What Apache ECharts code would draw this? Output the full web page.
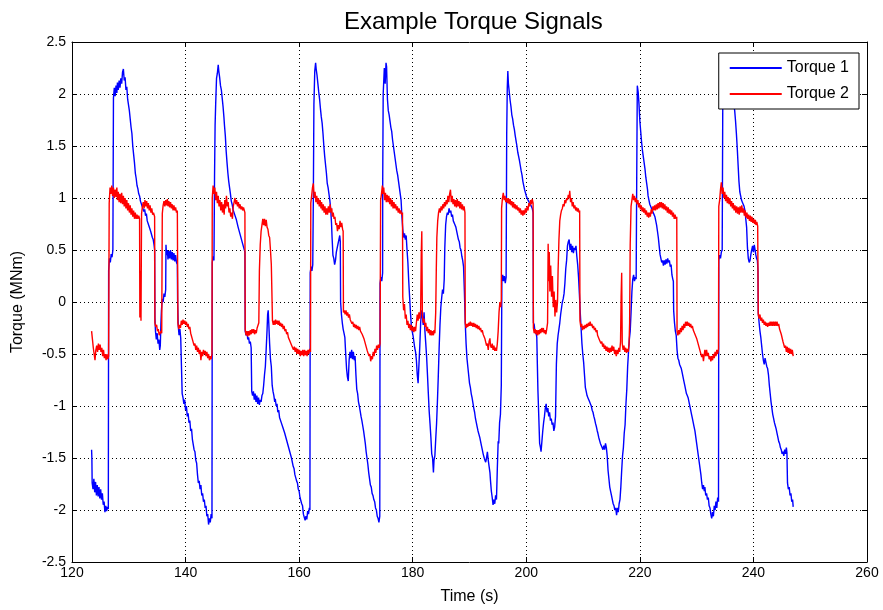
<!DOCTYPE html>
<html>
<head>
<meta charset="utf-8">
<title>Example Torque Signals</title>
<script src="https://cdn.jsdelivr.net/npm/echarts@6/dist/echarts.min.js"></script>
<style>
  html, body { margin: 0; padding: 0; background: #ffffff; }
  #chart { width: 883px; height: 610px; }
</style>
</head>
<body>
<div id="chart"></div>
<script>
// Axis ticks
const xTicks = [120, 140, 160, 180, 200, 220, 240, 260];
const yTicks = [-2.5, -2, -1.5, -1, -0.5, 0, 0.5, 1, 1.5, 2, 2.5];
const seriesNames = ['Torque 1', 'Torque 2'];

// Torque 1: [time (s), torque (MNm)]
const torque1 = [
[123.45,-1.42],[123.5,-1.50],[123.55,-1.74],[123.7,-1.80],[123.85,-1.70],[124.0,-1.83],[124.15,-1.73],[124.3,-1.86],[124.45,-1.76],[124.6,-1.87],
[124.75,-1.78],[124.9,-1.89],[125.05,-1.80],[125.2,-1.90],[125.35,-1.84],[125.5,-1.95],[125.65,-1.92],[125.8,-2.02],[125.95,-1.96],[126.1,-2.01],
[126.25,-1.97],[126.4,-1.99],[126.45,0.30],[126.6,0.42],[126.75,0.38],[126.9,0.46],[127.05,0.43],[127.2,0.50],[127.3,1.96],[127.45,2.06],
[127.6,1.98],[127.75,2.08],[127.9,2.01],[128.0,2.11],[128.15,2.04],[128.3,2.13],[128.45,2.06],[128.6,2.15],[128.75,2.10],[128.9,2.21],
[129.05,2.24],[129.2,2.13],[129.35,2.16],[129.5,2.04],[129.65,2.07],[129.8,1.95],[129.95,1.96],[130.1,1.84],[130.25,1.83],[130.4,1.68],
[130.55,1.62],[130.7,1.50],[130.85,1.42],[131.0,1.34],[131.15,1.24],[131.3,1.19],[131.45,1.12],[131.6,1.09],[131.75,1.04],[131.9,1.02],
[132.05,0.97],[132.2,0.98],[132.35,0.92],[132.5,0.93],[132.65,0.87],[132.8,0.89],[132.95,0.83],[133.1,0.85],[133.25,0.78],[133.4,0.79],
[133.55,0.73],[133.7,0.74],[133.85,0.68],[134.0,0.69],[134.15,0.62],[134.3,0.60],[134.45,0.55],[134.55,0.50],[134.6,-0.15],[134.7,-0.28],
[134.85,-0.36],[135.0,-0.30],[135.15,-0.40],[135.3,-0.36],[135.45,-0.46],[135.55,-0.42],[135.65,-0.22],[135.75,-0.08],[135.9,0.03],[136.05,0.00],
[136.2,0.08],[136.35,0.05],[136.5,0.12],[136.55,0.55],[136.65,0.45],[136.8,0.50],[136.9,0.41],[137.05,0.49],[137.2,0.42],[137.35,0.50],
[137.5,0.41],[137.65,0.48],[137.8,0.40],[137.95,0.47],[138.1,0.39],[138.25,0.45],[138.4,0.38],[138.55,0.36],[138.6,0.00],[138.7,-0.22],
[138.85,-0.32],[139.0,-0.26],[139.15,-0.35],[139.3,-0.34],[139.4,-0.88],[139.55,-0.92],[139.7,-0.98],[139.85,-0.94],[140.0,-1.04],[140.15,-1.00],
[140.3,-1.10],[140.45,-1.07],[140.6,-1.16],[140.75,-1.14],[140.9,-1.24],[141.05,-1.22],[141.2,-1.32],[141.35,-1.33],[141.5,-1.42],[141.65,-1.44],
[141.8,-1.52],[141.95,-1.55],[142.1,-1.66],[142.25,-1.74],[142.4,-1.72],[142.55,-1.80],[142.7,-1.76],[142.85,-1.86],[143.0,-1.84],[143.15,-1.92],
[143.3,-1.90],[143.45,-1.98],[143.6,-1.96],[143.75,-2.06],[143.9,-2.04],[144.05,-2.14],[144.2,-2.08],[144.35,-2.12],[144.5,-2.04],[144.65,-2.08],
[144.7,0.38],[144.85,0.44],[145.0,0.40],[145.1,1.20],[145.2,1.70],[145.3,1.90],[145.45,2.15],[145.6,2.20],[145.75,2.28],[145.85,2.22],
[146.0,2.16],[146.15,2.08],[146.3,2.04],[146.45,1.96],[146.6,1.88],[146.75,1.78],[146.85,1.70],[147.0,1.60],[147.15,1.45],[147.3,1.34],
[147.45,1.24],[147.6,1.16],[147.75,1.10],[147.9,1.04],[148.05,0.97],[148.2,0.94],[148.35,0.89],[148.5,0.90],[148.65,0.84],[148.8,0.85],
[148.95,0.79],[149.1,0.78],[149.25,0.72],[149.4,0.72],[149.55,0.66],[149.7,0.66],[149.85,0.60],[150.0,0.60],[150.15,0.54],[150.3,0.54],
[150.45,0.48],[150.5,-0.28],[150.65,-0.32],[150.8,-0.28],[150.95,-0.36],[151.1,-0.34],[151.25,-0.40],[151.4,-0.38],[151.55,-0.44],[151.65,-0.86],
[151.8,-0.90],[151.95,-0.86],[152.1,-0.94],[152.25,-0.88],[152.4,-0.96],[152.55,-0.90],[152.7,-0.98],[152.85,-0.92],[153.0,-0.99],[153.15,-0.94],
[153.3,-0.96],[153.45,-0.90],[153.6,-0.88],[153.75,-0.80],[153.9,-0.70],[154.05,-0.62],[154.2,-0.45],[154.35,-0.27],[154.45,-0.12],[154.55,-0.08],
[154.65,-0.20],[154.8,-0.40],[154.95,-0.55],[155.1,-0.62],[155.25,-0.80],[155.4,-0.86],[155.55,-0.90],[155.7,-0.96],[155.8,-0.93],[155.95,-1.00],
[156.1,-0.98],[156.25,-1.06],[156.4,-1.04],[156.55,-1.11],[156.7,-1.10],[156.85,-1.16],[157.0,-1.15],[157.15,-1.21],[157.3,-1.20],[157.45,-1.26],
[157.6,-1.27],[157.75,-1.32],[157.9,-1.32],[158.05,-1.38],[158.2,-1.38],[158.35,-1.44],[158.5,-1.44],[158.65,-1.50],[158.8,-1.50],[158.95,-1.58],
[159.1,-1.60],[159.25,-1.66],[159.4,-1.67],[159.55,-1.72],[159.7,-1.74],[159.85,-1.80],[160.0,-1.82],[160.15,-1.88],[160.3,-1.88],[160.45,-1.94],
[160.6,-1.96],[160.75,-2.04],[160.9,-2.04],[161.05,-2.10],[161.2,-2.06],[161.35,-2.09],[161.5,-2.01],[161.65,-2.04],[161.8,-1.98],[161.9,-2.00],
[161.95,0.28],[162.1,0.34],[162.25,0.30],[162.4,0.36],[162.5,1.00],[162.6,1.90],[162.75,2.22],[162.9,2.30],[163.0,2.24],[163.15,2.18],
[163.3,2.10],[163.45,2.02],[163.6,1.95],[163.75,1.86],[163.9,1.78],[164.05,1.72],[164.2,1.62],[164.35,1.50],[164.5,1.40],[164.65,1.32],
[164.8,1.24],[164.95,1.14],[165.1,1.10],[165.25,1.04],[165.4,0.98],[165.55,0.90],[165.7,0.76],[165.8,0.62],[165.95,0.45],[166.1,0.42],
[166.25,0.36],[166.4,0.40],[166.55,0.48],[166.7,0.52],[166.85,0.56],[167.0,0.60],[167.15,0.64],[167.25,0.58],[167.3,0.00],[167.45,-0.12],
[167.6,-0.20],[167.75,-0.26],[167.9,-0.30],[168.05,-0.34],[168.2,-0.50],[168.35,-0.64],[168.5,-0.72],[168.65,-0.76],[168.8,-0.56],[168.95,-0.48],
[169.1,-0.54],[169.25,-0.46],[169.4,-0.55],[169.55,-0.48],[169.7,-0.56],[169.85,-0.52],[170.0,-0.70],[170.15,-0.84],[170.3,-0.88],[170.45,-0.96],
[170.6,-1.00],[170.75,-1.05],[170.9,-1.10],[171.05,-1.14],[171.2,-1.19],[171.35,-1.24],[171.5,-1.30],[171.65,-1.36],[171.8,-1.44],[171.95,-1.50],
[172.1,-1.56],[172.25,-1.64],[172.4,-1.70],[172.55,-1.76],[172.7,-1.78],[172.85,-1.84],[173.0,-1.86],[173.15,-1.90],[173.3,-1.92],[173.45,-1.98],
[173.6,-2.00],[173.75,-2.06],[173.9,-2.08],[174.05,-2.12],[174.2,-2.06],[174.25,0.18],[174.4,0.24],[174.55,0.20],[174.7,0.28],[174.72,1.20],
[174.8,2.00],[175.0,2.25],[175.15,2.10],[175.3,2.30],[175.4,2.26],[175.55,1.95],[175.7,1.84],[175.85,1.80],[176.0,1.74],[176.15,1.68],
[176.3,1.64],[176.45,1.56],[176.6,1.50],[176.75,1.44],[176.9,1.38],[177.05,1.32],[177.2,1.26],[177.35,1.22],[177.5,1.16],[177.65,1.10],
[177.8,1.04],[177.95,0.98],[178.1,0.82],[178.25,0.70],[178.4,0.62],[178.55,0.66],[178.7,0.60],[178.85,0.64],[179.0,0.50],[179.15,0.38],
[179.3,0.20],[179.45,0.05],[179.6,-0.10],[179.75,-0.22],[179.9,-0.28],[180.05,-0.32],[180.2,-0.38],[180.35,-0.44],[180.5,-0.48],[180.65,-0.56],
[180.8,-0.70],[180.95,-0.78],[181.1,-0.60],[181.25,-0.42],[181.4,-0.20],[181.55,-0.08],[181.7,-0.14],[181.85,-0.22],[182.0,-0.10],[182.15,-0.28],
[182.3,-0.40],[182.45,-0.53],[182.6,-0.70],[182.75,-0.88],[182.9,-1.05],[183.05,-1.17],[183.2,-1.30],[183.35,-1.46],[183.5,-1.50],[183.65,-1.64],
[183.75,-1.52],[183.9,-1.48],[184.05,-1.32],[184.2,-1.17],[184.35,-0.96],[184.5,-0.72],[184.65,-0.45],[184.8,-0.22],[184.95,-0.05],[185.1,0.04],
[185.25,0.12],[185.4,0.08],[185.55,0.22],[185.65,0.52],[185.8,0.74],[185.95,0.82],[186.1,0.86],[186.25,0.84],[186.4,0.90],[186.55,0.86],
[186.7,0.88],[186.85,0.82],[187.0,0.84],[187.15,0.78],[187.3,0.78],[187.45,0.74],[187.6,0.72],[187.75,0.68],[187.9,0.68],[188.05,0.60],
[188.2,0.58],[188.35,0.52],[188.5,0.50],[188.65,0.44],[188.8,0.40],[188.95,0.34],[189.1,0.10],[189.25,-0.20],[189.4,-0.40],[189.55,-0.54],
[189.7,-0.62],[189.85,-0.70],[190.0,-0.78],[190.15,-0.82],[190.3,-0.88],[190.45,-0.92],[190.6,-0.97],[190.75,-1.02],[190.9,-1.06],[191.05,-1.12],
[191.2,-1.16],[191.35,-1.20],[191.5,-1.24],[191.65,-1.27],[191.8,-1.30],[191.95,-1.34],[192.1,-1.38],[192.25,-1.42],[192.4,-1.46],[192.55,-1.49],
[192.7,-1.52],[192.85,-1.54],[193.0,-1.50],[193.15,-1.44],[193.3,-1.52],[193.45,-1.58],[193.6,-1.64],[193.7,-1.72],[193.85,-1.82],[194.0,-1.88],
[194.15,-1.95],[194.3,-1.90],[194.45,-1.94],[194.6,-1.86],[194.75,-1.90],[194.9,-1.60],[195.05,-1.34],[195.15,-1.36],[195.3,-1.16],[195.45,-1.08],
[195.6,-0.80],[195.7,0.20],[195.85,0.26],[196.0,0.20],[196.15,0.25],[196.3,0.18],[196.45,0.24],[196.55,1.60],[196.65,2.05],[196.75,2.22],
[196.85,2.10],[197.0,2.02],[197.15,1.94],[197.3,1.88],[197.45,1.80],[197.6,1.76],[197.75,1.70],[197.9,1.66],[198.05,1.60],[198.2,1.55],
[198.35,1.50],[198.5,1.44],[198.65,1.40],[198.8,1.36],[198.95,1.31],[199.1,1.26],[199.25,1.22],[199.4,1.16],[199.55,1.12],[199.7,1.08],
[199.85,1.05],[200.0,1.02],[200.15,1.00],[200.3,0.98],[200.45,0.98],[200.6,0.95],[200.75,0.94],[200.9,0.92],[201.05,0.90],[201.2,0.86],
[201.25,-0.20],[201.4,-0.22],[201.55,-0.30],[201.7,-0.28],[201.85,-0.34],[201.95,-0.60],[202.05,-0.85],[202.2,-1.10],[202.35,-1.36],[202.5,-1.40],
[202.6,-1.44],[202.75,-1.34],[202.9,-1.24],[203.05,-1.16],[203.2,-1.10],[203.35,-1.02],[203.5,-0.98],[203.65,-1.06],[203.8,-1.02],[203.95,-1.10],
[204.1,-1.06],[204.25,-1.14],[204.4,-1.12],[204.55,-1.18],[204.7,-1.16],[204.85,-1.24],[205.0,-1.20],[205.15,-1.10],[205.3,-0.60],[205.45,-0.40],
[205.6,-0.32],[205.75,-0.26],[205.9,-0.20],[206.05,-0.12],[206.2,-0.06],[206.35,0.00],[206.5,0.03],[206.65,0.08],[206.8,0.18],[206.95,0.32],
[207.1,0.40],[207.25,0.54],[207.4,0.58],[207.55,0.60],[207.7,0.50],[207.85,0.56],[208.0,0.48],[208.15,0.54],[208.3,0.47],[208.45,0.52],
[208.6,0.50],[208.75,0.54],[208.9,0.44],[209.05,0.36],[209.2,0.24],[209.35,0.08],[209.5,-0.10],[209.65,-0.25],[209.8,-0.40],[209.95,-0.50],
[210.1,-0.58],[210.25,-0.70],[210.4,-0.82],[210.55,-0.86],[210.7,-0.90],[210.85,-0.92],[211.0,-0.94],[211.15,-0.96],[211.3,-0.98],[211.45,-1.00],
[211.6,-1.04],[211.75,-1.06],[211.9,-1.10],[212.05,-1.13],[212.2,-1.17],[212.35,-1.20],[212.5,-1.24],[212.6,-1.26],[212.75,-1.30],[212.9,-1.33],
[213.05,-1.36],[213.2,-1.38],[213.35,-1.40],[213.5,-1.42],[213.65,-1.38],[213.8,-1.42],[213.95,-1.36],[214.1,-1.40],[214.25,-1.48],[214.4,-1.62],
[214.55,-1.70],[214.7,-1.78],[214.85,-1.82],[215.0,-1.86],[215.15,-1.90],[215.3,-1.94],[215.45,-1.96],[215.6,-2.00],[215.75,-1.98],[215.9,-2.05],
[216.05,-1.98],[216.2,-2.02],[216.35,-1.94],[216.5,-1.90],[216.65,-1.78],[216.8,-1.62],[216.95,-1.48],[217.1,-1.40],[217.25,-1.26],[217.4,-1.18],
[217.55,-0.98],[217.7,-0.84],[217.85,-0.62],[218.0,-0.48],[218.15,-0.36],[218.3,-0.28],[218.45,-0.10],[218.6,0.10],[218.75,0.22],[218.9,0.26],
[219.05,0.20],[219.2,0.24],[219.35,0.22],[219.45,1.20],[219.55,2.08],[219.7,2.02],[219.85,1.90],[220.0,1.74],[220.15,1.64],[220.3,1.54],
[220.45,1.46],[220.6,1.40],[220.75,1.34],[220.9,1.28],[221.05,1.20],[221.2,1.14],[221.35,1.08],[221.45,1.02],[221.6,0.98],[221.75,0.94],
[221.9,0.92],[222.05,0.90],[222.2,0.88],[222.35,0.86],[222.5,0.84],[222.65,0.82],[222.8,0.78],[222.95,0.74],[223.1,0.68],[223.25,0.62],
[223.4,0.54],[223.55,0.46],[223.7,0.42],[223.85,0.38],[224.0,0.40],[224.15,0.35],[224.3,0.40],[224.45,0.36],[224.6,0.41],[224.75,0.37],
[224.9,0.42],[225.05,0.38],[225.2,0.40],[225.35,0.34],[225.5,0.36],[225.65,0.26],[225.8,0.22],[225.9,0.20],[225.95,-0.08],[226.1,-0.20],
[226.25,-0.28],[226.4,-0.32],[226.55,-0.46],[226.7,-0.54],[226.85,-0.56],[227.0,-0.60],[227.15,-0.62],[227.3,-0.64],[227.45,-0.68],[227.6,-0.72],
[227.75,-0.76],[227.9,-0.80],[228.05,-0.84],[228.2,-0.88],[228.35,-0.90],[228.5,-0.92],[228.65,-0.96],[228.8,-1.00],[228.95,-1.04],[229.1,-1.08],
[229.25,-1.12],[229.4,-1.16],[229.55,-1.20],[229.7,-1.24],[229.85,-1.30],[230.0,-1.36],[230.15,-1.42],[230.3,-1.48],[230.45,-1.54],[230.6,-1.60],
[230.75,-1.66],[230.9,-1.74],[231.05,-1.80],[231.2,-1.76],[231.35,-1.82],[231.45,-1.78],[231.6,-1.86],[231.75,-1.84],[231.9,-1.90],[232.05,-1.88],
[232.2,-1.96],[232.35,-1.98],[232.5,-2.04],[232.65,-2.08],[232.8,-2.02],[232.95,-2.06],[233.1,-1.96],[233.25,-2.00],[233.4,-1.92],[233.55,-1.98],
[233.7,-1.88],[233.85,-1.92],[233.9,0.40],[234.05,0.45],[234.2,0.42],[234.35,0.48],[234.5,0.50],[234.6,1.90],[234.75,2.02],[234.9,2.06],
[235.05,2.04],[235.2,2.08],[235.35,2.05],[235.5,2.06],[235.65,2.04],[235.8,2.02],[235.95,2.00],[236.1,1.98],[236.25,1.96],[236.4,1.92],
[236.55,1.90],[236.7,1.84],[236.85,1.74],[237.0,1.62],[237.15,1.48],[237.3,1.32],[237.45,1.16],[237.6,1.06],[237.75,1.02],[237.9,0.98],
[238.05,0.96],[238.2,0.94],[238.35,0.92],[238.5,0.88],[238.65,0.80],[238.8,0.72],[238.95,0.52],[239.1,0.42],[239.25,0.38],[239.4,0.40],
[239.55,0.46],[239.7,0.50],[239.85,0.54],[240.0,0.48],[240.15,0.55],[240.3,0.50],[240.4,0.46],[240.55,0.42],[240.7,0.40],[240.8,0.30],
[240.85,-0.10],[241.0,-0.20],[241.15,-0.28],[241.3,-0.34],[241.45,-0.42],[241.6,-0.50],[241.75,-0.56],[241.9,-0.60],[242.05,-0.54],[242.2,-0.58],
[242.35,-0.62],[242.5,-0.64],[242.65,-0.70],[242.8,-0.80],[242.95,-0.88],[243.1,-0.96],[243.25,-1.02],[243.4,-1.08],[243.55,-1.12],[243.7,-1.16],
[243.85,-1.19],[244.0,-1.22],[244.15,-1.26],[244.3,-1.30],[244.45,-1.34],[244.6,-1.36],[244.75,-1.40],[244.9,-1.42],[245.05,-1.46],[245.2,-1.44],
[245.35,-1.48],[245.5,-1.42],[245.65,-1.46],[245.8,-1.40],[245.9,-1.45],[246.0,-1.74],[246.15,-1.80],[246.3,-1.78],[246.45,-1.86],[246.6,-1.84],
[246.75,-1.92],[246.9,-1.90],[247.0,-1.97]
];

// Torque 2: [time (s), torque (MNm)]
const torque2 = [
[123.45,-0.28],[123.6,-0.36],[123.75,-0.44],[123.9,-0.50],[124.05,-0.56],[124.2,-0.46],[124.35,-0.42],[124.5,-0.48],[124.65,-0.40],[124.8,-0.46],
[124.95,-0.41],[125.1,-0.48],[125.25,-0.44],[125.4,-0.52],[125.55,-0.46],[125.7,-0.54],[125.85,-0.50],[126.0,-0.56],[126.15,-0.50],[126.3,-0.55],
[126.45,-0.52],[126.55,0.95],[126.7,1.10],[126.85,1.04],[127.0,1.12],[127.15,1.02],[127.3,1.10],[127.45,1.00],[127.6,1.08],[127.75,1.01],
[127.9,1.10],[128.0,0.98],[128.15,1.06],[128.3,0.96],[128.45,1.04],[128.6,0.95],[128.75,1.05],[128.9,0.94],[129.05,1.02],[129.2,0.92],
[129.35,1.00],[129.5,0.90],[129.65,0.98],[129.8,0.88],[129.95,0.95],[130.1,0.86],[130.25,0.93],[130.4,0.84],[130.55,0.90],[130.7,0.82],
[130.85,0.88],[131.0,0.80],[131.15,0.86],[131.3,0.80],[131.45,0.84],[131.6,0.80],[131.75,0.83],[131.9,0.80],[131.95,-0.15],[132.05,0.30],
[132.15,-0.18],[132.25,0.85],[132.4,0.92],[132.55,0.96],[132.7,0.90],[132.85,0.98],[133.0,0.92],[133.15,0.97],[133.3,0.90],[133.45,0.95],
[133.6,0.88],[133.75,0.93],[133.9,0.86],[134.05,0.90],[134.2,0.84],[134.35,0.86],[134.55,0.82],[134.6,-0.20],[134.75,-0.24],[134.9,-0.22],
[135.05,-0.28],[135.2,-0.26],[135.35,-0.32],[135.5,-0.30],[135.65,-0.28],[135.8,-0.30],[135.9,0.85],[136.05,0.93],[136.2,0.97],[136.35,0.92],
[136.5,0.98],[136.65,0.93],[136.8,0.99],[136.9,0.92],[137.05,0.97],[137.2,0.91],[137.35,0.96],[137.5,0.90],[137.65,0.94],[137.8,0.88],
[137.95,0.93],[138.1,0.88],[138.25,0.91],[138.4,0.86],[138.55,0.88],[138.65,-0.20],[138.8,-0.26],[138.95,-0.22],[139.1,-0.25],[139.25,-0.18],
[139.4,-0.22],[139.55,-0.17],[139.7,-0.21],[139.85,-0.18],[140.0,-0.22],[140.15,-0.19],[140.3,-0.24],[140.45,-0.21],[140.6,-0.26],[140.75,-0.24],
[140.9,-0.30],[141.05,-0.30],[141.2,-0.36],[141.35,-0.36],[141.5,-0.42],[141.65,-0.40],[141.8,-0.46],[141.95,-0.42],[142.1,-0.48],[142.25,-0.44],
[142.4,-0.50],[142.55,-0.46],[142.7,-0.56],[142.85,-0.48],[143.0,-0.52],[143.15,-0.46],[143.3,-0.50],[143.45,-0.47],[143.6,-0.52],[143.75,-0.48],
[143.9,-0.54],[144.05,-0.50],[144.2,-0.56],[144.35,-0.52],[144.5,-0.55],[144.65,-0.50],[144.7,1.00],[144.85,1.12],[145.0,1.04],[145.15,1.10],
[145.3,0.98],[145.45,1.06],[145.6,0.95],[145.75,1.02],[145.9,0.92],[146.05,0.98],[146.2,0.88],[146.35,0.96],[146.5,0.86],[146.65,0.94],
[146.8,0.84],[146.9,0.98],[147.05,0.90],[147.2,1.02],[147.35,0.92],[147.5,0.96],[147.65,0.86],[147.8,0.90],[147.95,0.82],[148.1,0.86],
[148.25,0.80],[148.4,0.92],[148.55,0.96],[148.7,1.00],[148.85,0.94],[149.0,0.98],[149.15,0.92],[149.3,0.96],[149.45,0.90],[149.6,0.94],
[149.75,0.89],[149.9,0.92],[150.05,0.88],[150.2,0.91],[150.35,0.88],[150.45,0.86],[150.5,-0.26],[150.65,-0.32],[150.8,-0.28],[150.95,-0.33],
[151.1,-0.28],[151.25,-0.32],[151.4,-0.27],[151.55,-0.31],[151.7,-0.26],[151.85,-0.30],[152.0,-0.26],[152.15,-0.31],[152.3,-0.27],[152.45,-0.30],
[152.6,-0.25],[152.75,-0.24],[152.9,-0.20],[153.0,0.30],[153.15,0.55],[153.3,0.68],[153.45,0.74],[153.6,0.80],[153.75,0.74],[153.9,0.80],
[154.05,0.73],[154.2,0.79],[154.35,0.72],[154.5,0.70],[154.65,0.64],[154.8,0.62],[154.95,0.50],[155.1,0.36],[155.2,0.10],[155.3,-0.18],
[155.45,-0.22],[155.6,-0.18],[155.75,-0.22],[155.85,-0.17],[156.0,-0.21],[156.15,-0.18],[156.3,-0.22],[156.45,-0.18],[156.6,-0.23],[156.75,-0.20],
[156.9,-0.24],[157.05,-0.21],[157.2,-0.26],[157.35,-0.23],[157.5,-0.28],[157.65,-0.26],[157.8,-0.31],[157.95,-0.29],[158.1,-0.34],[158.25,-0.33],
[158.4,-0.38],[158.55,-0.37],[158.7,-0.42],[158.85,-0.41],[159.0,-0.46],[159.15,-0.43],[159.3,-0.48],[159.45,-0.44],[159.6,-0.50],[159.75,-0.45],
[159.9,-0.50],[160.05,-0.46],[160.2,-0.52],[160.35,-0.47],[160.5,-0.51],[160.65,-0.46],[160.8,-0.52],[160.95,-0.46],[161.1,-0.51],[161.25,-0.47],
[161.4,-0.52],[161.55,-0.46],[161.7,-0.50],[161.85,-0.45],[162.0,-0.48],[162.05,0.95],[162.2,1.02],[162.35,1.10],[162.5,1.14],[162.65,1.00],
[162.8,1.06],[162.95,0.96],[163.1,1.02],[163.25,0.94],[163.4,1.00],[163.55,0.92],[163.7,0.98],[163.85,0.90],[163.95,0.96],[164.1,0.88],
[164.25,0.94],[164.4,0.86],[164.55,0.92],[164.7,0.84],[164.85,0.90],[165.0,0.84],[165.15,0.92],[165.3,0.86],[165.45,0.94],[165.6,0.86],
[165.75,0.90],[165.85,0.82],[166.0,0.86],[166.15,0.80],[166.3,0.82],[166.45,0.74],[166.6,0.76],[166.75,0.68],[166.9,0.74],[167.05,0.70],
[167.2,0.78],[167.35,0.72],[167.5,0.76],[167.65,0.70],[167.75,0.68],[167.8,-0.10],[167.95,-0.08],[168.1,-0.12],[168.25,-0.08],[168.4,-0.13],
[168.55,-0.10],[168.7,-0.15],[168.85,-0.12],[169.0,-0.17],[169.15,-0.16],[169.3,-0.21],[169.45,-0.19],[169.6,-0.24],[169.75,-0.21],[169.9,-0.25],
[170.05,-0.22],[170.2,-0.26],[170.35,-0.23],[170.5,-0.27],[170.65,-0.24],[170.8,-0.28],[170.95,-0.27],[171.1,-0.31],[171.25,-0.30],[171.4,-0.35],
[171.55,-0.36],[171.7,-0.41],[171.85,-0.42],[172.0,-0.47],[172.15,-0.46],[172.3,-0.52],[172.45,-0.50],[172.6,-0.57],[172.75,-0.52],[172.9,-0.55],
[173.05,-0.48],[173.2,-0.52],[173.35,-0.45],[173.5,-0.49],[173.65,-0.42],[173.8,-0.46],[173.95,-0.41],[174.1,-0.44],[174.25,-0.40],[174.35,0.98],
[174.5,1.04],[174.65,1.12],[174.75,1.04],[174.9,1.10],[175.05,0.98],[175.2,1.05],[175.35,0.96],[175.5,1.03],[175.65,0.96],[175.8,1.02],
[175.95,0.94],[176.1,1.00],[176.25,0.92],[176.4,0.98],[176.55,0.90],[176.7,0.96],[176.85,0.90],[177.0,0.94],[177.15,0.88],[177.3,0.92],
[177.45,0.86],[177.6,0.90],[177.75,0.85],[177.9,0.88],[178.05,0.84],[178.2,0.86],[178.25,0.05],[178.4,-0.08],[178.55,-0.02],[178.7,-0.16],
[178.85,-0.12],[179.0,-0.22],[179.15,-0.18],[179.3,-0.25],[179.45,-0.21],[179.6,-0.27],[179.75,-0.22],[179.9,-0.28],[180.05,-0.24],[180.2,-0.29],
[180.35,-0.24],[180.5,-0.28],[180.65,-0.20],[180.8,-0.12],[180.95,-0.18],[181.1,-0.10],[181.25,-0.16],[181.4,-0.08],[181.5,0.45],[181.6,0.68],
[181.7,-0.12],[181.85,-0.20],[182.0,-0.16],[182.15,-0.24],[182.3,-0.20],[182.45,-0.28],[182.6,-0.24],[182.75,-0.30],[182.9,-0.26],[183.05,-0.32],
[183.2,-0.27],[183.35,-0.32],[183.5,-0.28],[183.65,-0.32],[183.75,-0.27],[183.9,-0.30],[184.05,-0.10],[184.15,0.30],[184.25,0.62],[184.4,0.78],
[184.55,0.86],[184.7,0.90],[184.85,0.86],[185.0,0.92],[185.15,0.88],[185.3,0.94],[185.45,0.90],[185.6,0.96],[185.75,0.92],[185.9,0.98],
[186.05,0.94],[186.2,1.02],[186.35,0.96],[186.5,1.04],[186.65,1.08],[186.8,0.96],[186.95,1.02],[187.1,0.94],[187.25,0.99],[187.4,0.92],
[187.55,0.98],[187.7,0.91],[187.85,0.99],[188.0,0.92],[188.15,0.97],[188.3,0.90],[188.45,0.96],[188.6,0.89],[188.75,0.94],[188.9,0.88],
[189.05,0.92],[189.2,0.86],[189.25,-0.20],[189.4,-0.25],[189.55,-0.21],[189.7,-0.24],[189.85,-0.20],[190.0,-0.23],[190.15,-0.19],[190.3,-0.23],
[190.45,-0.20],[190.6,-0.24],[190.75,-0.20],[190.9,-0.24],[191.05,-0.21],[191.2,-0.25],[191.35,-0.22],[191.5,-0.26],[191.65,-0.23],[191.8,-0.27],
[191.95,-0.25],[192.1,-0.29],[192.25,-0.27],[192.4,-0.31],[192.55,-0.30],[192.7,-0.35],[192.85,-0.34],[193.0,-0.42],[193.15,-0.40],[193.3,-0.46],
[193.45,-0.38],[193.6,-0.35],[193.7,-0.42],[193.85,-0.44],[194.0,-0.40],[194.15,-0.46],[194.3,-0.42],[194.45,-0.47],[194.6,-0.44],[194.75,-0.47],
[194.9,-0.40],[195.05,-0.28],[195.2,-0.10],[195.35,0.00],[195.5,-0.05],[195.6,0.02],[195.65,0.90],[195.8,1.00],[195.95,1.05],[196.1,0.98],
[196.25,1.02],[196.4,0.96],[196.55,1.00],[196.7,0.95],[196.85,1.00],[197.0,0.94],[197.15,0.99],[197.3,0.93],[197.45,0.97],[197.6,0.91],
[197.75,0.96],[197.9,0.90],[198.05,0.94],[198.2,0.89],[198.35,0.93],[198.5,0.88],[198.65,0.91],[198.8,0.86],[198.95,0.90],[199.1,0.84],
[199.25,0.88],[199.4,0.83],[199.55,0.88],[199.7,0.84],[199.85,0.90],[200.0,0.86],[200.15,0.92],[200.3,0.88],[200.45,0.95],[200.6,0.92],
[200.75,0.98],[200.9,0.94],[201.05,0.99],[201.2,0.95],[201.25,-0.25],[201.4,-0.30],[201.55,-0.26],[201.7,-0.31],[201.85,-0.27],[202.0,-0.32],
[202.15,-0.27],[202.3,-0.31],[202.45,-0.26],[202.55,-0.30],[202.7,-0.25],[202.85,-0.29],[203.0,-0.25],[203.15,-0.30],[203.3,-0.27],[203.45,-0.31],
[203.6,-0.26],[203.75,-0.20],[203.85,0.56],[203.95,0.20],[204.05,0.48],[204.15,0.10],[204.3,0.35],[204.45,0.05],[204.6,0.25],[204.75,-0.05],
[204.9,0.10],[205.05,-0.14],[205.2,0.02],[205.35,-0.10],[205.5,0.00],[205.6,0.30],[205.75,0.60],[205.9,0.78],[206.05,0.84],[206.2,0.88],
[206.35,0.90],[206.5,0.94],[206.65,0.92],[206.8,0.98],[206.95,0.95],[207.1,1.00],[207.25,0.98],[207.4,1.03],[207.55,1.00],[207.65,1.07],
[207.8,0.96],[207.95,1.00],[208.1,0.92],[208.25,0.96],[208.4,0.90],[208.55,0.93],[208.7,0.88],[208.85,0.91],[209.0,0.87],[209.15,0.90],
[209.3,0.86],[209.4,0.88],[209.45,-0.18],[209.6,-0.24],[209.75,-0.21],[209.9,-0.27],[210.05,-0.23],[210.2,-0.26],[210.35,-0.22],[210.5,-0.25],
[210.65,-0.21],[210.8,-0.24],[210.95,-0.20],[211.1,-0.23],[211.25,-0.19],[211.4,-0.23],[211.55,-0.21],[211.7,-0.25],[211.85,-0.23],[212.0,-0.27],
[212.15,-0.25],[212.3,-0.29],[212.45,-0.27],[212.55,-0.32],[212.7,-0.31],[212.85,-0.36],[213.0,-0.35],[213.15,-0.40],[213.3,-0.38],[213.45,-0.43],
[213.6,-0.40],[213.75,-0.45],[213.9,-0.42],[214.05,-0.47],[214.2,-0.43],[214.35,-0.48],[214.5,-0.44],[214.65,-0.49],[214.8,-0.44],[214.95,-0.48],
[215.1,-0.42],[215.25,-0.47],[215.4,-0.43],[215.55,-0.50],[215.7,-0.46],[215.85,-0.52],[216.0,-0.46],[216.15,-0.50],[216.3,-0.44],[216.45,-0.48],
[216.6,-0.38],[216.7,0.05],[216.8,0.28],[216.9,-0.40],[217.05,-0.46],[217.2,-0.42],[217.35,-0.48],[217.5,-0.44],[217.65,-0.49],[217.8,-0.45],
[217.95,-0.48],[218.1,-0.40],[218.2,-0.20],[218.3,0.55],[218.45,0.92],[218.6,0.98],[218.75,1.04],[218.9,0.98],[219.05,1.02],[219.2,0.96],
[219.35,1.00],[219.5,0.94],[219.65,0.98],[219.8,0.91],[219.95,0.95],[220.1,0.89],[220.25,0.93],[220.4,0.87],[220.55,0.91],[220.7,0.86],
[220.85,0.90],[221.0,0.84],[221.15,0.88],[221.3,0.82],[221.45,0.86],[221.55,0.81],[221.7,0.86],[221.85,0.82],[222.0,0.89],[222.15,0.85],
[222.3,0.92],[222.45,0.88],[222.6,0.93],[222.75,0.88],[222.9,0.94],[223.05,0.89],[223.2,0.95],[223.35,0.90],[223.5,0.96],[223.65,0.91],
[223.8,0.96],[223.95,0.90],[224.1,0.95],[224.25,0.89],[224.4,0.94],[224.55,0.88],[224.7,0.92],[224.85,0.86],[225.0,0.91],[225.15,0.85],
[225.3,0.89],[225.45,0.84],[225.6,0.88],[225.75,0.82],[225.9,0.86],[226.05,0.80],[226.2,0.84],[226.35,0.80],[226.5,0.82],[226.55,-0.28],
[226.7,-0.32],[226.85,-0.27],[227.0,-0.31],[227.15,-0.25],[227.3,-0.29],[227.45,-0.23],[227.6,-0.27],[227.75,-0.21],[227.9,-0.25],[228.05,-0.19],
[228.2,-0.23],[228.35,-0.19],[228.5,-0.23],[228.65,-0.20],[228.8,-0.24],[228.95,-0.21],[229.1,-0.25],[229.25,-0.23],[229.4,-0.27],[229.55,-0.26],
[229.7,-0.31],[229.85,-0.30],[230.0,-0.35],[230.15,-0.35],[230.3,-0.41],[230.45,-0.41],[230.6,-0.47],[230.75,-0.46],[230.9,-0.53],[231.05,-0.50],
[231.2,-0.57],[231.35,-0.50],[231.45,-0.46],[231.6,-0.52],[231.75,-0.46],[231.9,-0.52],[232.05,-0.49],[232.2,-0.55],[232.35,-0.52],[232.5,-0.57],
[232.65,-0.52],[232.8,-0.56],[232.95,-0.50],[233.1,-0.54],[233.25,-0.48],[233.4,-0.52],[233.55,-0.46],[233.7,-0.50],[233.85,-0.45],[233.9,0.92],
[234.05,0.98],[234.2,1.08],[234.35,1.15],[234.5,1.04],[234.65,1.10],[234.8,1.00],[234.95,1.06],[235.1,0.97],[235.25,1.03],[235.4,0.95],
[235.55,1.01],[235.7,0.94],[235.85,1.00],[236.0,0.92],[236.15,0.97],[236.3,0.90],[236.45,0.95],[236.6,0.88],[236.75,0.93],[236.9,0.86],
[237.05,0.92],[237.2,0.85],[237.35,0.91],[237.5,0.84],[237.65,0.92],[237.8,0.86],[237.95,0.93],[238.1,0.86],[238.25,0.90],[238.4,0.83],
[238.55,0.88],[238.7,0.81],[238.85,0.86],[239.0,0.80],[239.15,0.84],[239.3,0.78],[239.45,0.83],[239.6,0.77],[239.75,0.82],[239.9,0.76],
[240.05,0.80],[240.2,0.75],[240.35,0.79],[240.45,0.74],[240.6,0.77],[240.75,0.73],[240.8,0.74],[240.85,-0.12],[241.0,-0.16],[241.15,-0.12],
[241.3,-0.18],[241.45,-0.15],[241.6,-0.20],[241.75,-0.17],[241.9,-0.22],[242.05,-0.19],[242.2,-0.23],[242.35,-0.20],[242.5,-0.24],[242.65,-0.20],
[242.8,-0.23],[242.95,-0.19],[243.1,-0.23],[243.25,-0.19],[243.4,-0.23],[243.55,-0.19],[243.7,-0.23],[243.85,-0.19],[244.0,-0.23],[244.15,-0.19],
[244.3,-0.23],[244.45,-0.21],[244.6,-0.26],[244.75,-0.25],[244.9,-0.31],[245.05,-0.32],[245.2,-0.38],[245.35,-0.38],[245.5,-0.44],[245.65,-0.42],
[245.8,-0.48],[245.95,-0.43],[246.1,-0.49],[246.25,-0.44],[246.4,-0.50],[246.55,-0.45],[246.7,-0.50],[246.85,-0.46],[247.0,-0.52]
];

const FONT = "'Liberation Sans', Arial, Helvetica, sans-serif";
const INK = '#000000';
const BLUE = '#0000ff';
const RED = '#ff0000';

const chart = echarts.init(document.getElementById('chart'), null, { renderer: 'canvas' });

const xMin = xTicks[0], xMax = xTicks[xTicks.length - 1], xStep = xTicks[1] - xTicks[0];
const yMin = yTicks[0], yMax = yTicks[yTicks.length - 1], yStep = yTicks[1] - yTicks[0];

const frameLine = { show: true, onZero: false, lineStyle: { color: INK, width: 1 } };
const innerTick = { show: true, inside: true, length: 5, lineStyle: { color: INK, width: 1 } };
const dottedGrid = { show: true, lineStyle: { color: INK, width: 1, type: [1, 3] } };

chart.setOption({
  animation: false,
  backgroundColor: '#ffffff',
  textStyle: { fontFamily: FONT },
  title: {
    // centred over the plot area rather than the whole canvas
    text: 'Example Torque Signals',
    left: 339,
    top: 5,
    textStyle: { fontFamily: FONT, fontSize: 24, fontWeight: 'normal', color: INK }
  },
  grid: { left: 72, right: 16, top: 42, bottom: 48, containLabel: false },
  legend: {
    data: seriesNames,
    orient: 'vertical',
    right: 24,
    top: 53,
    backgroundColor: '#ffffff',
    borderColor: INK,
    borderWidth: 1,
    borderRadius: 0,
    padding: [7, 10, 7, 10],
    itemWidth: 52,
    itemHeight: 14,
    itemGap: 10,
    // plain line samples: hide the marker drawn in the middle of each line
    itemStyle: { color: 'rgba(0,0,0,0)', borderColor: 'rgba(0,0,0,0)', borderWidth: 0 },
    textStyle: { fontFamily: FONT, fontSize: 16, color: INK }
  },
  xAxis: [
    {
      type: 'value', min: xMin, max: xMax, interval: xStep, position: 'bottom',
      name: 'Time (s)', nameLocation: 'middle', nameGap: 27,
      nameTextStyle: { fontFamily: FONT, fontSize: 16, color: INK },
      axisLine: frameLine, axisTick: innerTick,
      axisLabel: { color: INK, fontFamily: FONT, fontSize: 14, margin: 4 },
      splitLine: dottedGrid
    },
    {
      type: 'value', min: xMin, max: xMax, interval: xStep, position: 'top',
      axisLine: frameLine, axisTick: innerTick,
      axisLabel: { show: false }, splitLine: { show: false }
    }
  ],
  yAxis: [
    {
      type: 'value', min: yMin, max: yMax, interval: yStep, position: 'left',
      name: 'Torque (MNm)', nameLocation: 'middle', nameGap: 46, nameRotate: 90,
      nameTextStyle: { fontFamily: FONT, fontSize: 16, color: INK },
      axisLine: frameLine, axisTick: innerTick,
      axisLabel: { color: INK, fontFamily: FONT, fontSize: 14, margin: 6 },
      splitLine: dottedGrid
    },
    {
      type: 'value', min: yMin, max: yMax, interval: yStep, position: 'right',
      axisLine: frameLine, axisTick: innerTick,
      axisLabel: { show: false }, splitLine: { show: false }
    }
  ],
  series: [
    {
      name: seriesNames[0], type: 'line', data: torque1,
      xAxisIndex: 0, yAxisIndex: 0,
      symbol: 'none', showSymbol: false, sampling: null,
      lineStyle: { color: BLUE, width: 1.4 },
      itemStyle: { color: BLUE },
      z: 2
    },
    {
      name: seriesNames[1], type: 'line', data: torque2,
      xAxisIndex: 0, yAxisIndex: 0,
      symbol: 'none', showSymbol: false, sampling: null,
      lineStyle: { color: RED, width: 1.4 },
      itemStyle: { color: RED },
      z: 3
    }
  ]
});
</script>
</body>
</html>
